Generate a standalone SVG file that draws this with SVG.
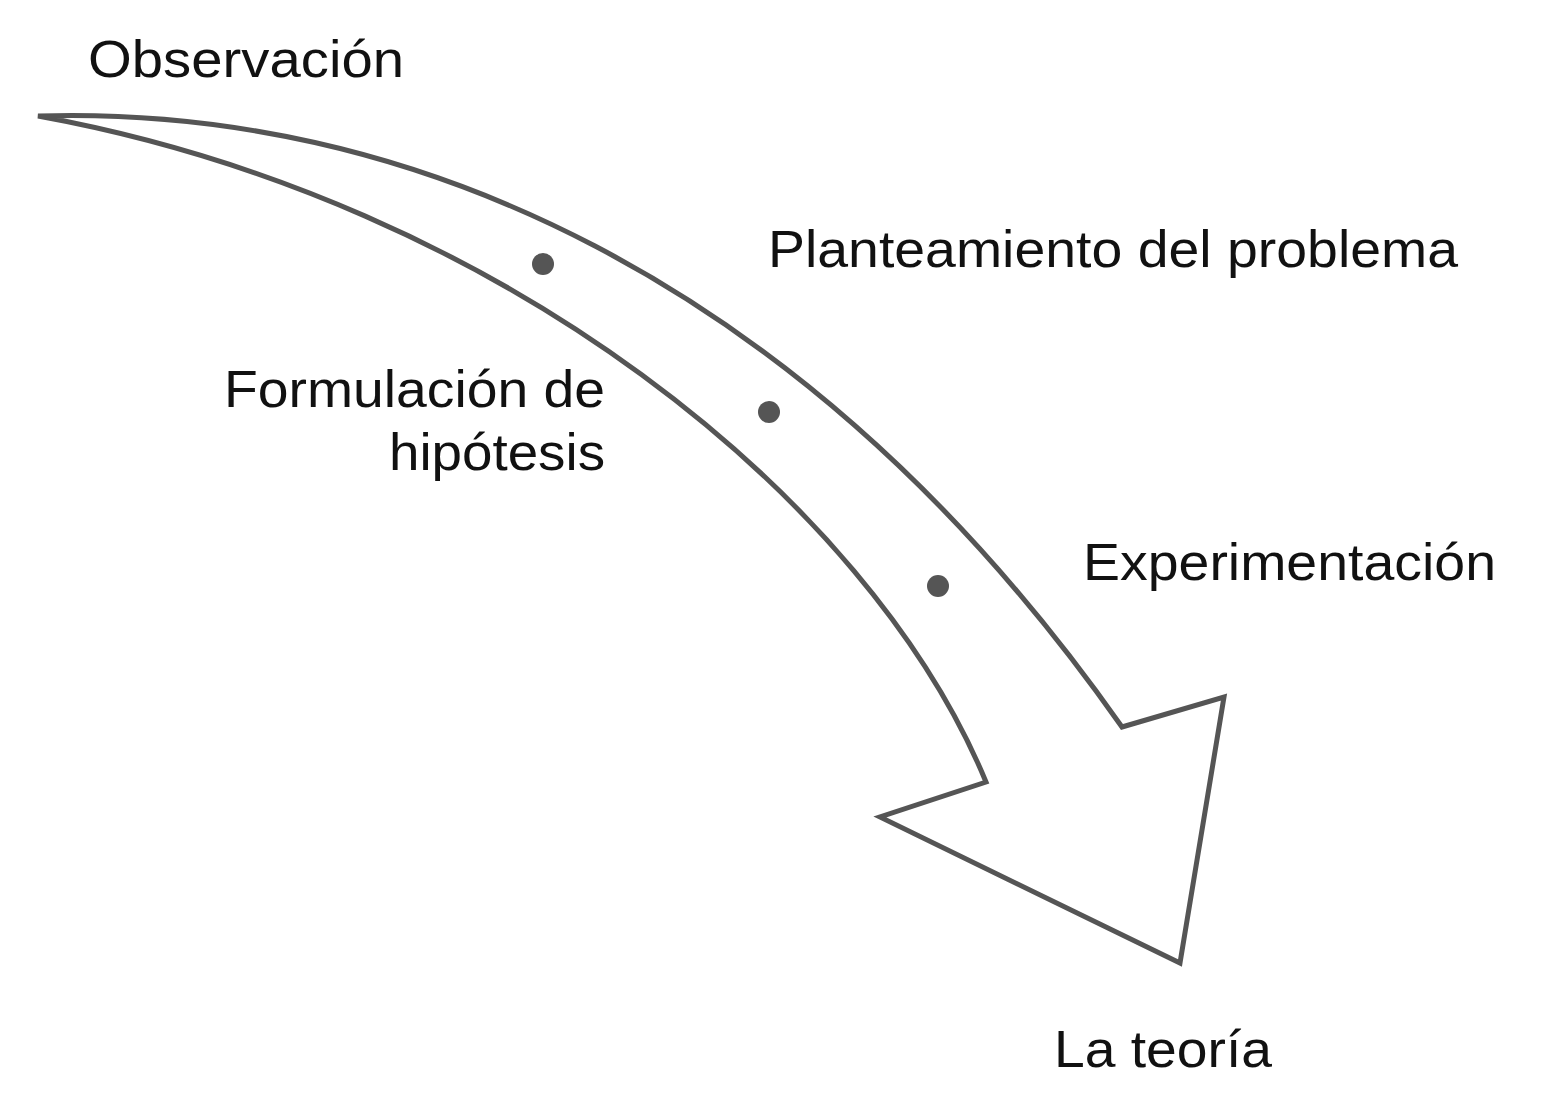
<svg xmlns="http://www.w3.org/2000/svg" width="1550" height="1108" viewBox="0 0 1550 1108">
<style>
text{font-family:"Liberation Sans",Arial,sans-serif;font-size:52px;fill:#111}
.dot{fill:#555}
</style>
<rect width="1550" height="1108" fill="#fff"/>
<g id="arrow">
<path d="M38,116 C400,105 800,270 1122,727 L1224,697 L1180,963 L880,817 L986,782 C870,500 500,200 38,116 Z" fill="#fff" stroke="#555" stroke-width="5" stroke-linejoin="miter"/>
</g>
<g id="dots">
<circle class="dot" cx="543" cy="264" r="11"/>
<circle class="dot" cx="769" cy="412" r="11"/>
<circle class="dot" cx="938" cy="586" r="11"/>
</g>
<g id="labels">
<text x="88" y="77" textLength="316" lengthAdjust="spacingAndGlyphs">Observación</text>
<text x="768" y="267" textLength="690" lengthAdjust="spacingAndGlyphs">Planteamiento del problema</text>
<text x="224" y="407" textLength="381" lengthAdjust="spacingAndGlyphs">Formulación de</text>
<text x="389" y="470" textLength="216" lengthAdjust="spacingAndGlyphs">hipótesis</text>
<text x="1083" y="580" textLength="413" lengthAdjust="spacingAndGlyphs">Experimentación</text>
<text x="1054" y="1067" textLength="218" lengthAdjust="spacingAndGlyphs">La teoría</text>
</g>
</svg>
